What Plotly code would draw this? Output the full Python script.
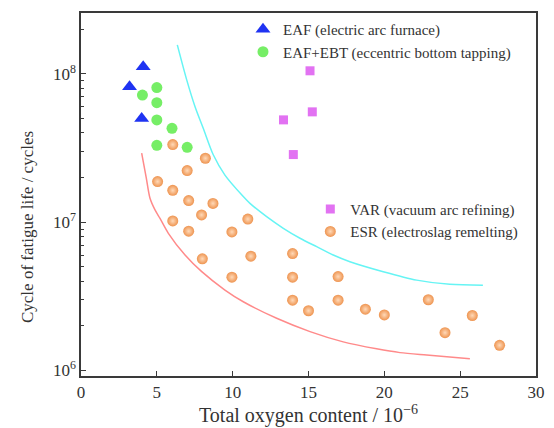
import plotly.graph_objects as go

# ---- data ----
eaf_x = [4.1, 3.2, 4.0]
eaf_y = [1.12e8, 8.2e7, 5.0e7]

ebt_x = [5.0, 4.05, 5.0, 5.0, 6.0, 5.0, 7.0]
ebt_y = [8.1e7, 7.2e7, 6.4e7, 4.9e7, 4.3e7, 3.3e7, 3.2e7]

var_x = [15.1, 15.25, 13.35, 14.0]
var_y = [1.05e8, 5.55e7, 4.9e7, 2.86e7]

esr_x = [6.05, 8.2, 7.0, 5.05, 6.05, 7.1, 8.7, 7.95, 11.0, 6.05, 7.1, 9.95,
         13.95, 11.2, 8.0, 9.95, 13.95, 16.95, 13.95, 16.95, 15.0, 18.75,
         20.0, 22.9, 25.8, 24.0, 27.6]
esr_y = [3.34e7, 2.7e7, 2.23e7, 1.88e7, 1.64e7, 1.40e7, 1.34e7, 1.12e7, 1.05e7,
         1.02e7, 8.7e6, 8.6e6, 6.15e6, 5.9e6, 5.67e6, 4.26e6, 4.26e6, 4.3e6,
         2.98e6, 2.98e6, 2.53e6, 2.59e6, 2.37e6, 3.0e6, 2.35e6, 1.80e6, 1.48e6]

upper_x = [6.35, 6.97, 7.52, 8.06, 8.72, 9.49, 10.70, 11.14, 12.24, 13.34, 14.44,
           15.54, 16.63, 17.73, 19.93, 22.13, 24.32, 26.5]
upper_y = [1.57e8, 9.12e7, 6.01e7, 4.30e7, 2.85e7, 2.08e7, 1.49e7, 1.34e7, 1.09e7,
           9.10e6, 7.80e6, 6.84e6, 6.01e6, 5.42e6, 4.64e6, 4.07e6, 3.81e6, 3.76e6]

lower_x = [4.0, 4.3, 4.55, 4.88, 5.21, 5.76, 6.86, 7.96, 9.49, 10.7, 12.9,
           15.1, 17.29, 19.49, 21.03, 22.79, 25.64]
lower_y = [2.92e7, 2.0e7, 1.45e7, 1.21e7, 1.06e7, 8.42e6, 6.01e6, 4.64e6, 3.49e6,
           2.91e6, 2.25e6, 1.83e6, 1.56e6, 1.40e6, 1.32e6, 1.27e6, 1.20e6]

x_ticks = [0, 5, 10, 15, 20, 25, 30]
y_ticks = [1e6, 1e7, 1e8]
y_tick_text = ["10<sup>6</sup>", "10<sup>7</sup>", "10<sup>8</sup>"]
x_title = "Total oxygen content / 10<sup>−6</sup>"
y_title = "Cycle of fatigue life / cycles"

FONT = "Times New Roman, Liberation Serif, serif"
AX = "#3a3a3a"
TXT = "#333333"

fig = go.Figure()

fig.add_trace(go.Scatter(x=upper_x, y=upper_y, mode="lines",
                         line=dict(color="#66F4F4", width=1.5, shape="spline", smoothing=0.8),
                         showlegend=False, hoverinfo="skip"))
fig.add_trace(go.Scatter(x=lower_x, y=lower_y, mode="lines",
                         line=dict(color="#FF8A8A", width=1.5, shape="spline", smoothing=0.8),
                         showlegend=False, hoverinfo="skip"))

fig.add_trace(go.Scatter(x=eaf_x, y=eaf_y, mode="markers", name="EAF (electric arc furnace)",
                         marker=dict(symbol="triangle-up", size=13, color="#1F33F2",
                                     line=dict(width=0)),
                         legend="legend"))
fig.add_trace(go.Scatter(x=ebt_x, y=ebt_y, mode="markers",
                         name="EAF+EBT (eccentric bottom tapping)",
                         marker=dict(symbol="circle", size=11, color="#76EE66",
                                     line=dict(width=0)),
                         legend="legend"))
fig.add_trace(go.Scatter(x=var_x, y=var_y, mode="markers", name="VAR (vacuum arc refining)",
                         marker=dict(symbol="square", size=9, color="#E272F2",
                                     line=dict(width=0)),
                         legend="legend2"))
fig.add_trace(go.Scatter(x=esr_x, y=esr_y, mode="markers", name="ESR (electroslag remelting)",
                         marker=dict(symbol="circle", size=11, color="#EE9450",
                                     gradient=dict(type="radial", color="#FFD9B8"),
                                     line=dict(width=0)),
                         legend="legend2"))

fig.add_annotation(text=y_title, textangle=-90, xref="paper", yref="paper",
                   x=-0.119, y=0.41, xanchor="center", yanchor="middle", showarrow=False,
                   font=dict(family=FONT, size=17, color=TXT))
fig.add_annotation(text=x_title, xref="paper", yref="paper",
                   x=0.5, y=-0.105, xanchor="center", yanchor="middle", showarrow=False,
                   font=dict(family=FONT, size=20, color=TXT))

fig.update_layout(
    width=554, height=428,
    margin=dict(l=81, r=18, t=13, b=52, autoexpand=False),
    paper_bgcolor="white", plot_bgcolor="white",
    font=dict(family=FONT, color=TXT, size=15),
    legend=dict(x=0.356, y=1.0, xanchor="left", yanchor="top",
                bgcolor="rgba(0,0,0,0)", font=dict(family=FONT, size=15, color=TXT),
                tracegroupgap=0, itemsizing="trace"),
    legend2=dict(x=0.504, y=0.505, xanchor="left", yanchor="top",
                 bgcolor="rgba(0,0,0,0)", font=dict(family=FONT, size=15, color=TXT),
                 tracegroupgap=0, itemsizing="trace"),
    xaxis=dict(range=[0, 30], tickvals=x_ticks, ticks="inside", ticklen=5, tickwidth=1.2,
               tickcolor=AX, showline=True, linecolor=AX, linewidth=1.5, mirror=True,
               showgrid=False, zeroline=False, automargin=False,
               tickfont=dict(family=FONT, size=17, color=TXT)),
    yaxis=dict(type="log", range=[5.963, 8.411], tickvals=y_ticks, ticktext=y_tick_text,
               ticks="inside", ticklen=5, tickwidth=1.2, tickcolor=AX,
               minor=dict(ticks="inside", ticklen=3, tickwidth=1, tickcolor=AX,
                          dtick="D1", showgrid=False),
               showline=True, linecolor=AX, linewidth=1.5, mirror=True,
               showgrid=False, zeroline=False, automargin=False,
               tickfont=dict(family=FONT, size=17, color=TXT)),
)

fig.write_html("out.html")
